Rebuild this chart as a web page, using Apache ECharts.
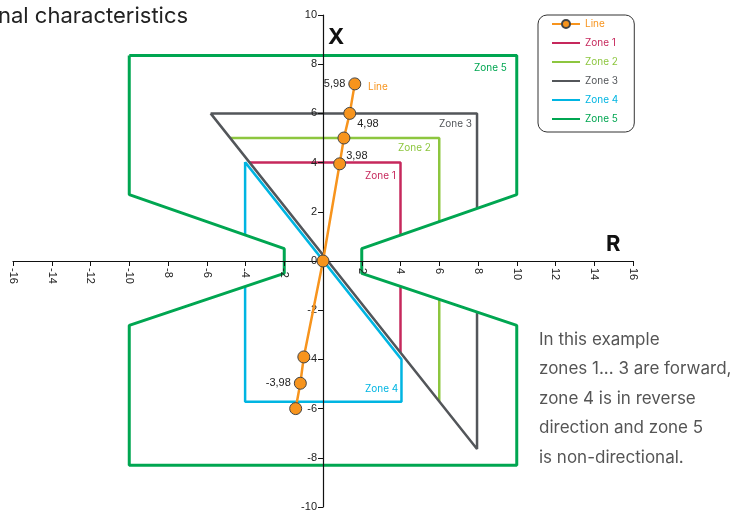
<!DOCTYPE html>
<html lang="en">
<head>
    <meta charset="utf-8">
    <title>ECharts</title>
    <script src="https://cdn.jsdelivr.net/npm/echarts@6/dist/echarts.min.js"></script>
    <style>
        html, body { margin: 0; padding: 0; background: #fff; }
        #main { width: 733px; height: 511px; }
    </style>
</head>
<body>
<div id="main"></div>
<script type="text/javascript">
    // impedance line (R, X) and its point labels
    var lineR = [-1.41, -1.17, -0.99, 0, 0.86, 1.08, 1.38, 1.64];
    var lineX = [-6.0, -4.97, -3.9, 0, 3.95, 5.0, 6.0, 7.2];
    var lineLabels = ['', '-3,98', '', '', '3,98', '', '4,98', '5,98'];

    // zone outlines, vertex by vertex
    var zone1R = [-3.8, 4, 4];
    var zone1X = [4, 4, -3.7];
    var zone2R = [-4.8, 6, 6];
    var zone2X = [5, 5, -5.72];
    var zone3R = [-5.8, 7.95, 7.95, -5.8];
    var zone3X = [6, 6, -7.64, 6];
    var zone4R = [-4.02, -4.02, 4.05, 4.05, -4.02];
    var zone4X = [4.02, -5.72, -5.72, -4.0, 4.02];
    var zone5R = [-10, 10, 10, 2, 2, 10, 10, -10, -10, -2, -2, -10, -10];
    var zone5X = [8.35, 8.35, 2.7, 0.5, -0.5, -2.62, -8.3, -8.3, -2.62, -0.5, 0.5, 2.7, 8.35];

    var names = ['Line', 'Zone 1', 'Zone 2', 'Zone 3', 'Zone 4', 'Zone 5'];
    var colors = ['#f7941d', '#c6285c', '#8dc63f', '#53565a', '#00b5e2', '#00a651'];

    function pairs(rs, xs) {
        return rs.map(function (r, i) { return [r, xs[i]]; });
    }

    // the parts outside zone 5's waist are blanked out
    var masks = [pairs(zone5R.slice(2, 6), zone5X.slice(2, 6)),
                 pairs(zone5R.slice(8, 12), zone5X.slice(8, 12))];

    var myChart = echarts.init(document.getElementById('main'));
    var font = 'Inter, "Noto Sans", sans-serif';
    var gridW = 733 - 13 - 100, gridH = 511 - 15 - 4;

    function zone(idx, rs, xs, w, z) {
        return {
            name: names[idx],
            type: 'line',
            data: pairs(rs, xs),
            symbol: 'none',
            z: z,
            lineStyle: {color: colors[idx], width: w},
            itemStyle: {color: colors[idx]},
            animation: false
        };
    }

    var option = {
        backgroundColor: '#fff',
        animation: false,
        grid: {left: 13, right: 100, top: 15, bottom: 4, outerBoundsMode: 'none', containLabel: false},
        legend: {
            left: 538, top: 15,
            orient: 'vertical',
            padding: [4, 16, 8, 13],
            itemGap: 9,
            itemWidth: 28,
            itemHeight: 10,
            borderColor: '#333',
            borderWidth: 1,
            borderRadius: 9,
            textStyle: {fontFamily: font, fontSize: 10},
            data: names.map(function (n, i) {
                var d = {name: n, textStyle: {color: colors[i]}};
                if (i > 0) d.itemStyle = {opacity: 0};
                return d;
            })
        },
        xAxis: {
            type: 'value', min: -16, max: 16, interval: 2, z: 5,
            position: 'bottom', offset: -gridH / 2,
            axisLine: {onZero: false, lineStyle: {color: '#111', width: 1.2}},
            axisTick: {length: 5, lineStyle: {color: '#111'}},
            axisLabel: {
                rotate: -90, color: '#222', fontSize: 11, margin: 7,
                fontFamily: 'Arial, "Liberation Sans", sans-serif',
                formatter: function (v) { return v === 0 ? '' : v; }
            },
            splitLine: {show: false}
        },
        yAxis: {
            type: 'value', min: -10, max: 10, interval: 2, z: 5,
            position: 'left', offset: -gridW / 2,
            axisLine: {onZero: false, lineStyle: {color: '#111', width: 1.2}},
            axisTick: {length: 5, lineStyle: {color: '#111'}},
            axisLabel: {
                color: '#222', fontSize: 11, margin: 6,
                fontFamily: 'Arial, "Liberation Sans", sans-serif'
            },
            splitLine: {show: false}
        },
        graphic: [
            {type: 'text', left: -2, top: 5, z: 50,
             style: {text: 'nal characteristics', fill: '#222', font: '22px ' + font}},
            {type: 'text', left: 328, top: 26, z: 50,
             style: {text: 'X', fill: '#111', font: 'bold 22px ' + font}},
            {type: 'text', left: 606, top: 233, z: 50,
             style: {text: 'R', fill: '#111', font: 'bold 22px ' + font}},
            {type: 'text', left: 474, top: 63, z: 50,
             style: {text: 'Zone 5', fill: colors[5], font: '10px ' + font}},
            {type: 'text', left: 439, top: 119, z: 50,
             style: {text: 'Zone 3', fill: colors[3], font: '10px ' + font}},
            {type: 'text', left: 398, top: 143, z: 50,
             style: {text: 'Zone 2', fill: colors[2], font: '10px ' + font}},
            {type: 'text', left: 365, top: 171, z: 50,
             style: {text: 'Zone 1', fill: colors[1], font: '10px ' + font}},
            {type: 'text', left: 365, top: 384, z: 50,
             style: {text: 'Zone 4', fill: colors[4], font: '10px ' + font}},
            {type: 'text', left: 368, top: 82, z: 50,
             style: {text: 'Line', fill: colors[0], font: '10px ' + font}},
            {type: 'text', left: 539, top: 325, z: 50,
             style: {
                 text: 'In this example\nzones 1... 3 are forward,\nzone 4 is in reverse\ndirection and zone 5\nis non-directional.',
                 fill: '#555', font: '17px ' + font, lineHeight: 29.5
             }}
        ],
        series: [
            zone(1, zone1R, zone1X, 2.5, 2),
            zone(2, zone2R, zone2X, 2.5, 2),
            zone(4, zone4R, zone4X, 2.5, 2),
            zone(3, zone3R, zone3X, 2.5, 2),
            {
                type: 'custom',
                z: 3,
                silent: true,
                data: [0, 1],
                renderItem: function (params, api) {
                    var pts = masks[params.dataIndex].map(function (p) { return api.coord(p); });
                    return {type: 'polygon', shape: {points: pts}, style: {fill: '#fff', stroke: null}};
                }
            },
            zone(5, zone5R, zone5X, 3, 4),
            {
                name: names[0],
                type: 'line',
                z: 10,
                data: pairs(lineR, lineX),
                symbol: 'circle',
                symbolSize: 12,
                lineStyle: {color: colors[0], width: 2.5},
                itemStyle: {color: colors[0], borderColor: '#444', borderWidth: 1},
                label: {
                    show: true,
                    fontSize: 11,
                    color: '#222',
                    fontFamily: 'Arial, "Liberation Sans", sans-serif',
                    formatter: function (p) { return lineLabels[p.dataIndex]; },
                    position: 'left',
                    distance: 3
                },
                labelLayout: function (params) {
                    var r = params.rect;
                    var t = lineLabels[params.dataIndex];
                    if (t === '4,98') {
                        return {x: r.x + r.width + 1, y: r.y + r.height / 2 + 11, align: 'left', verticalAlign: 'middle'};
                    }
                    if (t === '3,98') {
                        return {x: r.x + r.width, y: r.y + r.height / 2 - 8, align: 'left', verticalAlign: 'middle'};
                    }
                    return {};
                }
            }
        ]
    };

    myChart.setOption(option);
</script>
</body>
</html>
